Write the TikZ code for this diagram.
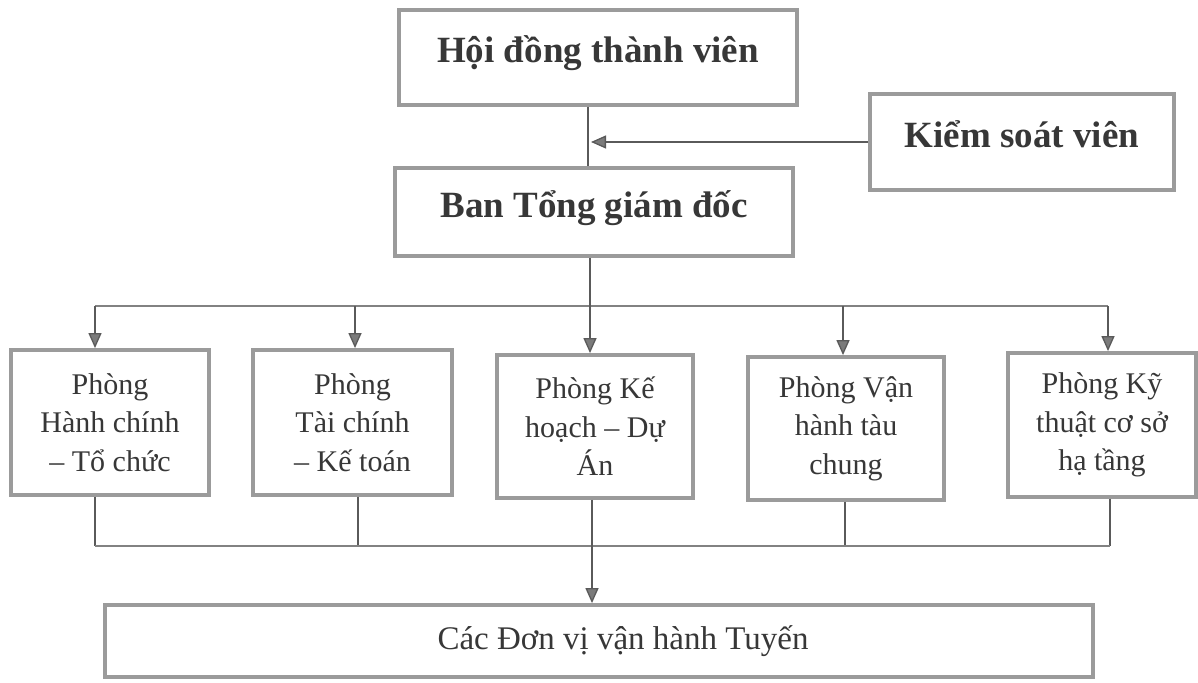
\documentclass[tikz,border=0pt]{standalone}
\usepackage{fontspec}
\setmainfont{Liberation Serif}
\usetikzlibrary{arrows.meta}
\definecolor{boxgray}{RGB}{155,155,155}
\definecolor{linegray}{RGB}{90,90,90}
\definecolor{busgray}{RGB}{130,130,130}
\definecolor{textgray}{RGB}{55,55,55}
\tikzset{
  hbox/.style={draw=boxgray, line width=3.8pt, fill=white, inner sep=0pt,
    text=textgray, font=\fontsize{37}{40}\selectfont\bfseries,
    text height=24pt, text depth=14pt},
  pbox/.style={draw=boxgray, line width=3.8pt, fill=white, inner sep=0pt,
    text=textgray, align=center, font=\fontsize{30}{38.5}\selectfont},
  conn/.style={draw=linegray, line width=1.3pt},
  bus/.style={draw=busgray, line width=1.8pt},
  arr/.style={conn, -{Triangle[length=15pt,width=13pt,fill=linegray!80]}},
}
\begin{document}
\begin{tikzpicture}[x=1pt,y=-1pt]
\useasboundingbox (0,0) rectangle (1198,682);
% top boxes
\node[hbox, minimum width=398pt, minimum height=95pt] (hdtv) at (598,57.5) {Hội đồng thành viên};
\node[hbox, minimum width=304pt, minimum height=96pt] (ksv) at (1022,142) {Kiểm soát viên};
\node[hbox, minimum width=398pt, minimum height=88pt] (ban) at (594,212) {Ban Tổng giám đốc};
% department boxes
\node[pbox, minimum width=198pt, minimum height=145pt] (b1) at (110,422.5) {Phòng\\Hành chính\\– Tổ chức};
\node[pbox, minimum width=199pt, minimum height=145pt] (b2) at (352.5,422.5) {Phòng\\Tài chính\\– Kế toán};
\node[pbox, minimum width=196pt, minimum height=143pt] (b3) at (595,426.5) {Phòng Kế\\hoạch – Dự\\Án};
\node[pbox, minimum width=196pt, minimum height=143pt] (b4) at (846,428.5) {Phòng Vận\\hành tàu\\chung};
\node[pbox, minimum width=188pt, minimum height=144pt] (b5) at (1102,425) {Phòng Kỹ\\thuật cơ sở\\hạ tầng};
% bottom box
\node[pbox, minimum width=988pt, minimum height=72pt, font=\fontsize{33}{36}\selectfont] (dv) at (599,641) {\hspace*{48pt}Các Đơn vị vận hành Tuyến};
% coordinates
\coordinate (v1) at (588,0);
\coordinate (ka) at (591,0);
\coordinate (t1) at (95,306);
\coordinate (t2) at (355,306);
\coordinate (t3) at (590,306);
\coordinate (t4) at (843,306);
\coordinate (t5) at (1108,306);
\coordinate (u1) at (95,546);
\coordinate (u2) at (358,546);
\coordinate (u3) at (592,546);
\coordinate (u4) at (845,546);
\coordinate (u5) at (1110,546);
% connectors top
\draw[conn] (hdtv.south -| v1) -- (ban.north -| v1);
\draw[arr] (ksv.west) -- (ksv.west -| ka);
% top bus
\draw[bus] (t1) -- (t5);
\draw[conn] (ban.south -| t3) -- (t3);
\draw[arr] (t1) -- (b1.north -| t1);
\draw[arr] (t2) -- (b2.north -| t2);
\draw[arr] (t3) -- (b3.north -| t3);
\draw[arr] (t4) -- (b4.north -| t4);
\draw[arr] (t5) -- (b5.north -| t5);
% bottom bus
\draw[conn] (b1.south -| u1) -- (u1);
\draw[conn] (b2.south -| u2) -- (u2);
\draw[conn] (b4.south -| u4) -- (u4);
\draw[conn] (b5.south -| u5) -- (u5);
\draw[bus] (u1) -- (u5);
\draw[arr] (b3.south -| u3) -- (dv.north -| u3);
\end{tikzpicture}
\end{document}
